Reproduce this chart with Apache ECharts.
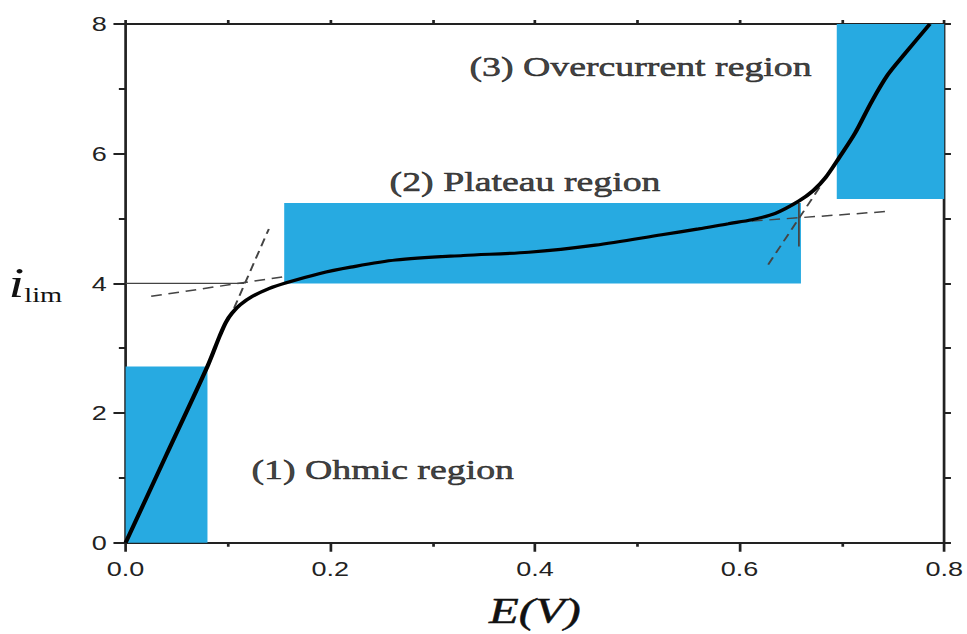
<!DOCTYPE html>
<html>
<head>
<meta charset="utf-8">
<title>Limiting current vs E</title>
<script src="https://cdn.jsdelivr.net/npm/echarts@6/dist/echarts.min.js"></script>
<style>
  html, body { margin: 0; padding: 0; background: #fff; overflow: hidden; }
  /* the source figure is stretched sideways, so the chart is drawn narrower and widened */
  #chart { width: 716px; height: 634px; transform: scaleX(1.3506); transform-origin: 0 0; }
</style>
</head>
<body>
<div id="chart"></div>
<script>
// measured i_lim (E) curve
var curveE = [0, 0.04, 0.08, 0.092, 0.098, 0.104, 0.112, 0.124, 0.14, 0.157, 0.189, 0.22,
              0.264, 0.33, 0.394, 0.459, 0.524, 0.56, 0.589, 0.612, 0.635, 0.658, 0.672, 0.684, 0.697,
              0.713, 0.729, 0.745, 0.762, 0.786];
var curveI = [0, 1.36, 2.72, 3.19, 3.40, 3.54, 3.67, 3.80, 3.92, 4.01, 4.15, 4.25,
              4.36, 4.43, 4.48, 4.59, 4.75, 4.84, 4.92, 4.98, 5.08, 5.27, 5.43, 5.63, 5.93,
              6.32, 6.80, 7.22, 7.55, 8.0];

// shaded regions: [E from, E to], [i from, i to]
var regionE = [[0, 0.08], [0.155, 0.66], [0.695, 0.8]];
var regionI = [[0, 2.72], [4.0, 5.24], [5.3, 8.0]];

// region captions, anchored at their left end
var captionText = ['(1) Ohmic region', '(2) Plateau region', '(3) Overcurrent region'];
var captionE = [0.123, 0.258, 0.336];
var captionI = [1.14, 5.58, 7.35];

// dashed tangent lines
var tangentE = [[0.025, 0.153], [0.106, 0.140], [0.612, 0.745], [0.628, 0.679]];
var tangentI = [[3.80, 4.10], [3.62, 4.84], [4.96, 5.11], [4.29, 5.50]];

// thin solid guide lines
var guideE = [[0, 0.116], [0.658, 0.658]];
var guideI = [[4.0, 4.0], [5.24, 4.57]];

var xTickLabels = ['0.0', '0.2', '0.4', '0.6', '0.8'];
var yTickLabels = ['0', '2', '4', '6', '8'];

var ink = '#222';

var chart = echarts.init(document.getElementById('chart'), null, { renderer: 'svg' });

function pairs(xs, ys) {
    var out = [];
    for (var i = 0; i < xs.length; i++) out.push([xs[i], ys[i]]);
    return out;
}

var series = [];

series.push({
    type: 'line',
    data: [],
    z: 1,
    silent: true,
    markArea: {
        silent: true,
        itemStyle: { color: '#27aae1', opacity: 1 },
        label: { show: false },
        data: regionE.map(function (e, k) {
            return [{ coord: [e[0], regionI[k][0]] }, { coord: [e[1], regionI[k][1]] }];
        })
    }
});

for (var t = 0; t < tangentE.length; t++) {
    series.push({
        type: 'line',
        data: pairs(tangentE[t], tangentI[t]),
        symbol: 'none',
        z: 3,
        silent: true,
        lineStyle: { color: '#444', width: 1.5, type: [8, 5] }
    });
}

for (var g = 0; g < guideE.length; g++) {
    series.push({
        type: 'line',
        data: pairs(guideE[g], guideI[g]),
        symbol: 'none',
        z: 3,
        silent: true,
        lineStyle: { color: '#444', width: 1.3 }
    });
}

series.push({
    type: 'line',
    data: pairs(curveE, curveI),
    symbol: 'none',
    smooth: 0.3,
    z: 4,
    lineStyle: { color: '#000', width: 3.2 }
});

series.push({
    type: 'scatter',
    symbolSize: 0,
    z: 5,
    silent: true,
    data: captionE.map(function (e, k) {
        return { value: [e, captionI[k]], name: captionText[k] };
    }),
    label: {
        show: true,
        position: 'right',
        distance: 0,
        formatter: '{b}',
        fontFamily: 'Liberation Serif',
        fontSize: 28,
        color: '#111',
        textBorderColor: '#111',
        textBorderWidth: 0.6
    }
});

var option = {
    backgroundColor: '#fff',
    animation: false,
    grid: { left: 93, right: 15, top: 24, bottom: 90 },
    xAxis: [
        {
            type: 'value', min: 0, max: 0.8, interval: 0.2, position: 'bottom',
            axisLine: { onZero: false, lineStyle: { color: ink, width: 2 } },
            axisTick: { length: 9, lineStyle: { color: ink, width: 2 } },
            minorTick: { show: true, splitNumber: 2, length: 4, lineStyle: { color: ink, width: 2 } },
            splitLine: { show: false },
            axisLabel: {
                margin: 16, fontFamily: 'Liberation Sans', fontSize: 20, color: '#222',
                formatter: function (v) { return xTickLabels[Math.round(v / 0.2)]; }
            },
            name: 'E(V)', nameLocation: 'middle', nameGap: 50,
            nameTextStyle: {
                fontFamily: 'Liberation Serif', fontStyle: 'italic', fontSize: 36, color: '#111',
                textBorderColor: '#111', textBorderWidth: 0.5
            }
        },
        {
            type: 'value', min: 0, max: 0.8, interval: 0.1, position: 'top',
            axisLine: { onZero: false, lineStyle: { color: ink, width: 2 } },
            axisTick: { length: 4, lineStyle: { color: ink, width: 2 } },
            axisLabel: { show: false },
            splitLine: { show: false }
        }
    ],
    yAxis: [
        {
            type: 'value', min: 0, max: 8, interval: 2, position: 'left',
            axisLine: { show: true, onZero: false, lineStyle: { color: ink, width: 2 } },
            axisTick: { show: true, length: 9, lineStyle: { color: ink, width: 2 } },
            minorTick: { show: true, splitNumber: 2, length: 5, lineStyle: { color: ink, width: 2 } },
            splitLine: { show: false },
            axisLabel: {
                margin: 14, fontFamily: 'Liberation Sans', fontSize: 20, color: '#222',
                formatter: function (v) { return yTickLabels[Math.round(v / 2)]; }
            },
            name: '{i|i}{s|lim}', nameLocation: 'middle', nameRotate: 0, nameGap: 47,
            nameTextStyle: {
                align: 'right', verticalAlign: 'middle',
                rich: {
                    i: { fontFamily: 'Liberation Serif', fontStyle: 'italic', fontSize: 42, color: '#111', lineHeight: 44 },
                    s: { fontFamily: 'Liberation Serif', fontSize: 21, color: '#111', verticalAlign: 'bottom', lineHeight: 30 }
                }
            }
        },
        {
            type: 'value', min: 0, max: 8, interval: 1, position: 'right',
            axisLine: { show: true, onZero: false, lineStyle: { color: ink, width: 2 } },
            axisTick: { show: true, length: 5, lineStyle: { color: ink, width: 2 } },
            axisLabel: { show: false },
            splitLine: { show: false }
        }
    ],
    series: series
};

chart.setOption(option);
</script>
</body>
</html>
